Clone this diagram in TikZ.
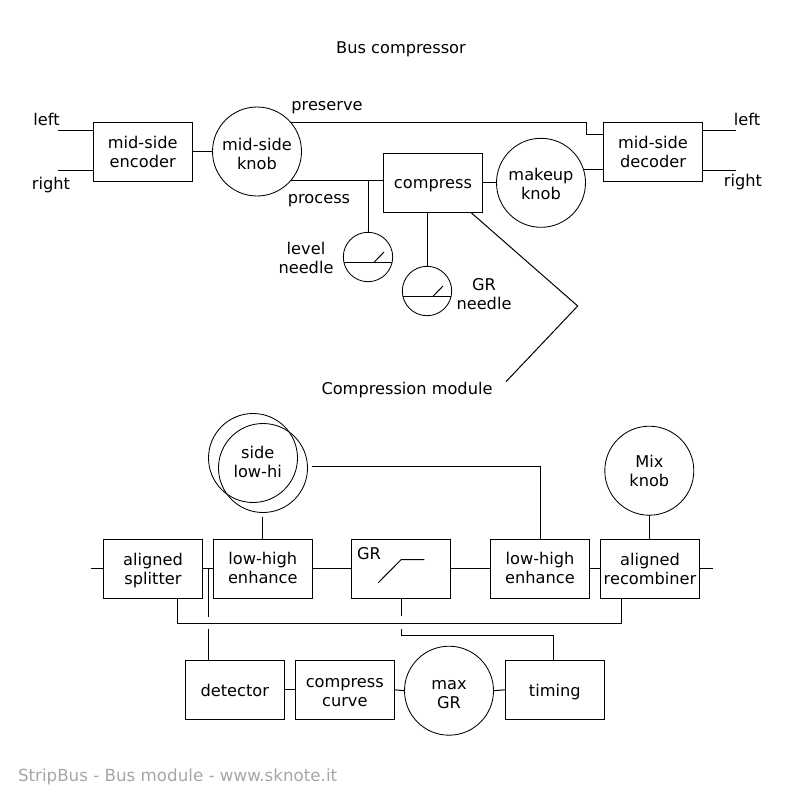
\documentclass[tikz,border=0pt]{standalone}
\usepackage{fontspec}
\setmainfont{DejaVu Sans}
\definecolor{footgray}{HTML}{A6A6A6}
\tikzset{
  wire/.style={line width=1pt,black},
  base/.style={font=\fontsize{16.2}{19}\selectfont,inner sep=0pt,outer sep=0pt,align=center},
  box/.style={base,draw,line width=1pt,rectangle,minimum width=99.3pt,minimum height=59pt},
  knob/.style={base,draw,line width=0.85pt,circle,minimum size=89pt},
  gauge/.style={draw,line width=0.85pt,circle,minimum size=49.4pt,inner sep=0pt,outer sep=0pt},
  tag/.style={base},
  % caption of a shape, moved vertically by #1 points from the shape's centre
  txt/.style 2 args={label={[base,yshift=#1pt]center:{#2}}},
}
\begin{document}
\begin{tikzpicture}[x=1pt,y=-1pt]
\useasboundingbox (0,0) rectangle (800,800);

% Upper block: bus compressor
\node[tag] (title) at (401,49) {Bus compressor};
\node[box,txt={-0.7}{mid-side\\encoder}] (enc) at (142.7,151.5) {};
\node[knob,txt={-2}{mid-side\\knob}] (knobM) at (257,151.5) {};
\node[box,txt={-2.5}{compress}] (comp) at (433,182.8) {};
\node[knob,txt={-1}{makeup\\knob}] (makeup) at (541,182.8) {};
\node[box,txt={-0.7}{mid-side\\decoder}] (dec) at (653,151.5) {};
\node[gauge] (gLevel) at (368,257) {};
\node[gauge] (gGR) at (427,291) {};

\node[tag] (lblLeftA) at (46.5,119.5) {left};
\node[tag] (lblRightA) at (51,185) {right};
\node[tag] (lblLeftB) at (747,119.5) {left};
\node[tag] (lblRightB) at (743,182.5) {right};
\node[tag] (lblPres) at (327,108) {preserve};
\node[tag] (lblProc) at (319,200.5) {process};
\node[tag] (lblLevel) at (306,257.5) {level\\needle};
\node[tag] (lblGR) at (484,294) {GR\\needle};
\node[tag] (lblMod) at (407,390) {Compression module};

\coordinate (inL) at (58,130);
\coordinate (inR) at (58,170);
\coordinate (outL) at (736,130);
\coordinate (outR) at (736,170);
\coordinate (presA) at (586.7,122.5);
\coordinate (presB) at (586.7,134);
\coordinate (brA) at (470.7,212.3);
\coordinate (brB) at (577.7,306);
\coordinate (brC) at (506,381.7);

\draw[wire] (inL) -- (inL -| enc.west);
\draw[wire] (inR) -- (inR -| enc.west);
\draw[wire] (outL -| dec.east) -- (outL);
\draw[wire] (outR -| dec.east) -- (outR);
\draw[wire] (enc.east) -- (knobM.west);
\draw[wire] (knobM.40) -- (knobM.40 -| presA) -- (presB) -- (presB -| dec.west);
\draw[wire] (knobM.-40) -- (comp.west |- knobM.-40);
\draw[wire] (gLevel.north |- knobM.-40) -- (gLevel.north);
\draw[wire] (comp.east) -- (makeup.west);
\draw[wire] (makeup.17.5) -- (dec.west |- makeup.17.5);
\draw[wire] (gGR.north |- comp.south) -- (gGR.north);
\draw[wire] (brA) -- (brB) -- (brC);

% Gauge faces
\draw[wire] (gLevel.192.4) -- (gLevel.-12.4);
\draw[wire] ([shift={(6,5.3)}]gLevel.center) -- ([shift={(16,-5)}]gLevel.center);
\draw[wire] (gGR.192.4) -- (gGR.-12.4);
\draw[wire] ([shift={(6,5.3)}]gGR.center) -- ([shift={(16,-5)}]gGR.center);

% Lower block: compression module
\node[knob] (sideA) at (253,458) {};
\node[knob] (sideB) at (263,468) {};
\node[tag] (lblSide) at (257.7,462) {side\\low-hi};
\node[knob,txt={-0.5}{Mix\\knob}] (mix) at (649.3,470.7) {};
\node[box,txt={-1.5}{aligned\\splitter}] (split) at (153,568.8) {};
\node[box,txt={1}{low-high\\enhance}] (lowA) at (262.8,568.8) {};
\node[box] (gr) at (401,568.8) {};
\node[box,txt={1}{low-high\\enhance}] (lowB) at (540,568.8) {};
\node[box] (rec) at (650,568.8) {aligned\\recombiner};
\node[box,txt={-1}{detector}] (det) at (234.8,689.8) {};
\node[box,txt={-2.5}{compress\\curve}] (curve) at (344.8,689.8) {};
\node[knob,txt={-3.5}{max\\GR}] (maxgr) at (449,690.7) {};
\node[box,txt={-2}{timing}] (timing) at (554.8,689.8) {};
\node[tag] (lblGRb) at (369,554) {GR};
\node[tag,font=\fontsize{16.7}{19}\selectfont,text=footgray,anchor=west] (foot) at (18,777) {StripBus - Bus module - www.sknote.it};

\coordinate (inM) at (90.7,568.8);
\coordinate (outM) at (713.3,568.8);
\coordinate (sideOut) at (311.7,466.5);
\coordinate (sideIn) at (262.8,517.3);
\coordinate (tapA) at (208.3,568.8);
\coordinate (tapB) at (208.3,617);
\coordinate (tapC) at (208.3,628.7);
\coordinate (busL) at (177.3,623.3);
\coordinate (busR) at (621.3,623.3);
\coordinate (grGapA) at (401,616);
\coordinate (grGapB) at (401,629.3);
\coordinate (grBend) at (401,635.3);
\coordinate (timeBend) at (553.3,635.3);
\coordinate (curveA) at (378.3,582.7);
\coordinate (curveB) at (401,559.7);
\coordinate (curveC) at (424.3,559.7);

\draw[wire] (inM) -- (split.west);
\draw[wire] (split.east) -- (lowA.west);
\draw[wire] (lowA.east) -- (gr.west);
\draw[wire] (gr.east) -- (lowB.west);
\draw[wire] (lowB.east) -- (rec.west);
\draw[wire] (rec.east) -- (outM);
\draw[wire] (sideOut) -- (sideOut -| lowB.north) -- (lowB.north);
\draw[wire] (sideIn) -- (sideIn |- lowA.north);
\draw[wire] (mix.south) -- (mix.south |- rec.north);
\draw[wire] (tapA) -- (tapB);
\draw[wire] (tapC) -- (tapC |- det.north);
\draw[wire] (busL |- split.south) -- (busL) -- (busR) -- (busR |- rec.south);
\draw[wire] (gr.south) -- (grGapA);
\draw[wire] (grGapB) -- (grBend) -- (timeBend) -- (timeBend |- timing.north);
\draw[wire] (det.east) -- (curve.west);
\draw[wire] (curve.east) -- (maxgr.west);
\draw[wire] (maxgr.east) -- (timing.west);
\draw[wire] (curveA) -- (curveB) -- (curveC);
\end{tikzpicture}
\end{document}
